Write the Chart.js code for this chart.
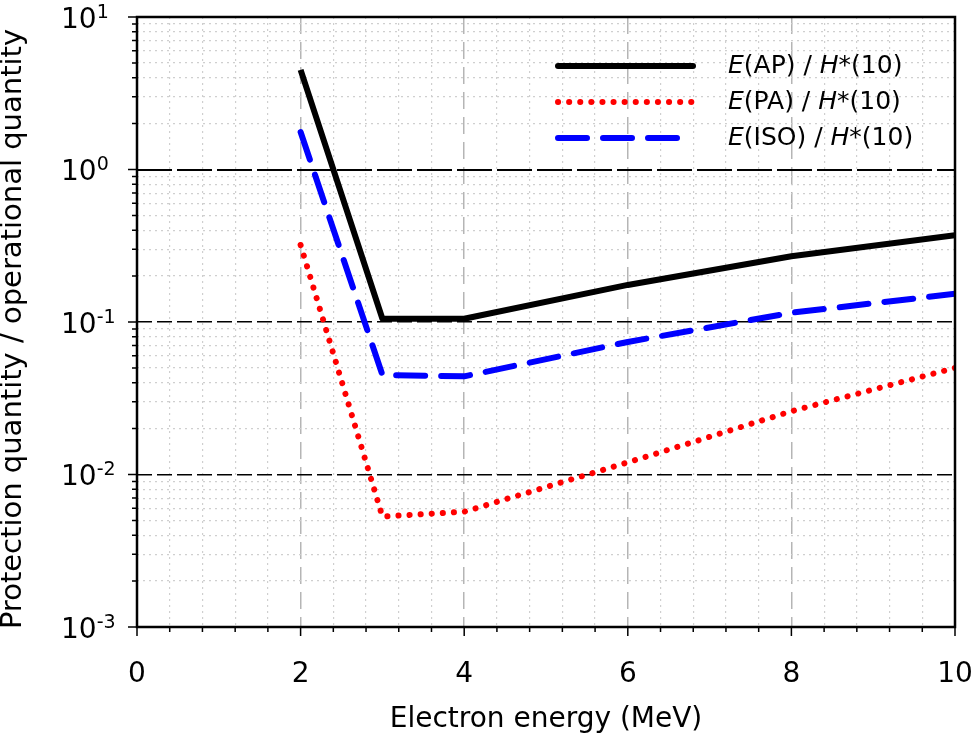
<!DOCTYPE html>
<html>
<head>
<meta charset="utf-8">
<script src="https://cdn.jsdelivr.net/npm/chart.js@4"></script>
<style>
  html, body { margin: 0; padding: 0; background: #fff; }
  canvas { display: block; }
</style>
</head>
<body>
<canvas id="ratioChart" width="972" height="752"></canvas>
<script>
// Electron energy (MeV) and protection / operational quantity ratios
const energy = [2, 3, 4, 6, 8, 10];
const ratioAP = [4.5, 0.105, 0.105, 0.175, 0.27, 0.37];
const ratioPA = [0.32, 0.0053, 0.0057, 0.012, 0.026, 0.05];
const ratioISO = [1.76, 0.045, 0.044, 0.074, 0.115, 0.153];

// axis ticks
const xMajorTicks = [0, 2, 4, 6, 8, 10];
const xMinorStep = 0.4;
const yDecades = [-3, -2, -1, 0, 1];
const yTickLabels = ['-3', '-2', '-1', '0', '1'];

const legendLabels = [
    [['E', true], ['(AP) / ', false], ['H', true], ['*(10)', false]],
    [['E', true], ['(PA) / ', false], ['H', true], ['*(10)', false]],
    [['E', true], ['(ISO) / ', false], ['H', true], ['*(10)', false]]
];

const FONT = '"DejaVu Sans", sans-serif';

const xTickValues = [];
for (let i = 0; i <= 25; i++) xTickValues.push(Math.round(i * xMinorStep * 10) / 10);

const yTickValues = [];
for (let e = -3; e < 1; e++) {
    for (let m = 1; m <= 9; m++) yTickValues.push(Number((m * Math.pow(10, e)).toPrecision(3)));
}
yTickValues.push(10);

const isXMajor = v => xMajorTicks.includes(v);
const isYMajor = v => Math.abs(Math.log10(v) - Math.round(Math.log10(v))) < 1e-6;

const styles = [
    { color: '#000000', dash: [], width: 6, cap: 'butt' },
    { color: '#ff0000', dash: [0.1, 11], width: 6, cap: 'round' },
    { color: '#0000ff', dash: [29, 16], width: 6, cap: 'round' }
];

function makeSet(label, values, st) {
    return {
        label: label,
        data: energy.map((x, i) => ({ x: x, y: values[i] })),
        borderColor: st.color,
        borderWidth: st.width,
        borderDash: st.dash,
        borderCapStyle: st.cap,
        borderJoinStyle: 'round',
        pointRadius: 0,
        fill: false,
        tension: 0
    };
}

const decor = {
    id: 'decor',
    afterDraw(chart) {
        const ctx = chart.ctx;
        const a = chart.chartArea;
        const xs = chart.scales.x, ys = chart.scales.y;
        ctx.save();
        // frame
        ctx.strokeStyle = '#000';
        ctx.lineWidth = 2.5;
        ctx.setLineDash([]);
        ctx.strokeRect(a.left, a.top, a.right - a.left, a.bottom - a.top);
        // ticks
        ctx.lineWidth = 1.5;
        ctx.beginPath();
        xTickValues.forEach(v => {
            const px = xs.getPixelForValue(v);
            const len = isXMajor(v) ? 9 : 5;
            ctx.moveTo(px, a.bottom);
            ctx.lineTo(px, a.bottom + len);
        });
        yTickValues.forEach(v => {
            const py = ys.getPixelForValue(v);
            const len = isYMajor(v) ? 9 : 5;
            ctx.moveTo(a.left, py);
            ctx.lineTo(a.left - len, py);
        });
        ctx.stroke();
        // y tick labels with superscripts
        ctx.fillStyle = '#000';
        ctx.textAlign = 'left';
        ctx.textBaseline = 'alphabetic';
        yDecades.forEach((d, i) => {
            const py = ys.getPixelForValue(Math.pow(10, d));
            const base = py + 10.5;
            ctx.font = '28px ' + FONT;
            ctx.fillText('10', 61, base);
            const w = ctx.measureText('10').width;
            ctx.font = '19px ' + FONT;
            ctx.fillText(yTickLabels[i], 61 + w, base - 10);
        });
        // axis titles
        ctx.font = '28px ' + FONT;
        ctx.textAlign = 'center';
        ctx.textBaseline = 'middle';
        ctx.fillText('Electron energy (MeV)', (a.left + a.right) / 2, 720);
        ctx.font = '29px ' + FONT;
        ctx.translate(13, 329);
        ctx.rotate(-Math.PI / 2);
        ctx.fillText('Protection quantity / operational quantity', 0, 0);
        ctx.restore();

        // legend
        ctx.save();
        const rows = [66, 102, 138];
        rows.forEach((ry, i) => {
            const st = styles[i];
            ctx.strokeStyle = st.color;
            ctx.lineWidth = st.width;
            ctx.lineCap = st.cap === 'butt' ? 'round' : st.cap;
            ctx.setLineDash(st.dash);
            ctx.beginPath();
            ctx.moveTo(558, ry);
            ctx.lineTo(693, ry);
            ctx.stroke();
            ctx.setLineDash([]);
            let tx = 728;
            ctx.fillStyle = '#000';
            ctx.textBaseline = 'middle';
            ctx.textAlign = 'left';
            legendLabels[i].forEach(([txt, it]) => {
                ctx.font = (it ? 'italic ' : '') + '25px ' + FONT;
                ctx.fillText(txt, tx, ry);
                tx += ctx.measureText(txt).width;
            });
        });
        ctx.restore();
    }
};

new Chart(document.getElementById('ratioChart').getContext('2d'), {
    type: 'line',
    data: {
        datasets: [
            makeSet('E(AP) / H*(10)', ratioAP, styles[0]),
            makeSet('E(PA) / H*(10)', ratioPA, styles[1]),
            makeSet('E(ISO) / H*(10)', ratioISO, styles[2])
        ]
    },
    options: {
        responsive: false,
        animation: false,
        devicePixelRatio: 1,
        layout: { padding: { left: 0, top: 17, right: 17, bottom: 0 } },
        plugins: { legend: { display: false }, tooltip: { enabled: false } },
        scales: {
            x: {
                type: 'linear',
                min: 0,
                max: 10,
                afterBuildTicks: s => { s.ticks = xTickValues.map(v => ({ value: v })); },
                afterFit: s => { s.height = 125; s.paddingLeft = 0; s.paddingRight = 0; },
                ticks: {
                    autoSkip: false,
                    maxRotation: 0,
                    padding: 31,
                    color: '#000',
                    font: { family: FONT, size: 28 },
                    callback: v => (isXMajor(v) ? String(v) : '')
                },
                grid: {
                    drawTicks: false,
                    color: c => (isXMajor(c.tick.value) ? '#b5b5b5' : '#cfcfcf'),
                    lineWidth: c => (isXMajor(c.tick.value) ? 1.5 : 1.2)
                },
                border: {
                    display: false,
                    dash: c => (isXMajor(c.tick.value) ? [17, 8] : [2, 4])
                }
            },
            y: {
                type: 'logarithmic',
                min: 0.001,
                max: 10,
                afterBuildTicks: s => { s.ticks = yTickValues.map(v => ({ value: v })); },
                afterFit: s => { s.width = 137; s.paddingTop = 0; s.paddingBottom = 0; },
                ticks: { display: false },
                grid: {
                    drawTicks: false,
                    color: c => (isYMajor(c.tick.value) ? '#000' : '#cfcfcf'),
                    lineWidth: c => (isYMajor(c.tick.value) ? (c.tick.value === 1 ? 2 : 1.5) : 1.2)
                },
                border: {
                    display: false,
                    dash: c => (isYMajor(c.tick.value) ? (c.tick.value === 1 ? [35, 5] : [15, 5]) : [2, 4])
                }
            }
        }
    },
    plugins: [decor]
});
</script>
</body>
</html>
